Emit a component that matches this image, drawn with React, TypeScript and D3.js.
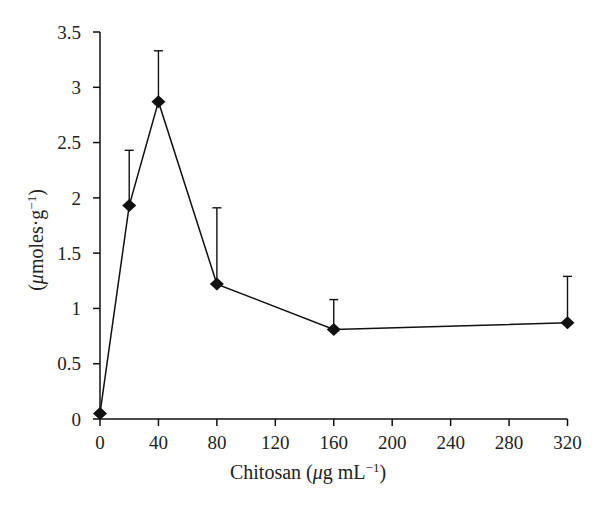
import React from "react";
import * as d3 from "d3";

const doses = [0, 20, 40, 80, 160, 320];
const means = [0.05, 1.93, 2.87, 1.22, 0.81, 0.87];
const errUp = [0, 0.5, 0.46, 0.69, 0.27, 0.42];
const xTicks = [0, 40, 80, 120, 160, 200, 240, 280, 320];
const yTicks = [0, 0.5, 1, 1.5, 2, 2.5, 3, 3.5];

const W = 600, H = 505;
const left = 100, right = 567.5, top = 32, bottom = 419;
const FONT = "'Liberation Serif', 'Times New Roman', serif";

export default function App() {
  const x = d3.scaleLinear().domain([0, 320]).range([left, right]);
  const y = d3.scaleLinear().domain([0, 3.5]).range([bottom, top]);
  const line = d3.line<number>().x((_, i) => x(doses[i])).y((d) => y(d));
  const diamond = "M0,-6.5L7,0L0,6.5L-7,0Z";
  return (
    <svg width={W} height={H} style={{ position: "absolute", left: 0, top: 0, background: "#fff" }} fontFamily={FONT}>
      {doses.map((d, i) =>
        errUp[i] > 0 ? (
          <g key={"e" + i} stroke="#111" strokeWidth={1.4}>
            <line x1={x(d)} x2={x(d)} y1={y(means[i])} y2={y(means[i] + errUp[i])} />
            <line x1={x(d) - 4.5} x2={x(d) + 4.5} y1={y(means[i] + errUp[i])} y2={y(means[i] + errUp[i])} />
          </g>
        ) : null
      )}
      <g stroke="#111" strokeWidth={1.5} fill="none">
        <line x1={left} x2={left} y1={top} y2={bottom} />
        <line x1={left} x2={right} y1={bottom} y2={bottom} />
        {yTicks.map((t) => (
          <line key={"yt" + t} x1={left - 7} x2={left} y1={y(t)} y2={y(t)} />
        ))}
        {xTicks.map((t) => (
          <line key={"xt" + t} x1={x(t)} x2={x(t)} y1={bottom} y2={bottom + 7} />
        ))}
      </g>
      {yTicks.map((t) => (
        <text key={"yl" + t} x={left - 19} y={y(t)} dy="0.35em" textAnchor="end" fontSize={19} fill="#222">
          {String(t)}
        </text>
      ))}
      {xTicks.map((t) => (
        <text key={"xl" + t} x={x(t)} y={449} textAnchor="middle" fontSize={19} fill="#222">
          {String(t)}
        </text>
      ))}
      <path d={line(means) || ""} fill="none" stroke="#111" strokeWidth={1.5} />
      {doses.map((d, i) => (
        <path key={"m" + i} d={diamond} transform={`translate(${x(d)},${y(means[i])})`} fill="#111" />
      ))}
      <text x={308} y={479} textAnchor="middle" fontSize={20} fill="#222">
        Chitosan (<tspan fontStyle="italic">μ</tspan>g mL
        <tspan baselineShift="super" fontSize={13}>−1</tspan>)
      </text>
      <text transform={`translate(43,240) rotate(-90)`} textAnchor="middle" fontSize={20} fill="#222">
        (<tspan fontStyle="italic">μ</tspan>moles·g
        <tspan baselineShift="super" fontSize={13}>−1</tspan>)
      </text>
    </svg>
  );
}
